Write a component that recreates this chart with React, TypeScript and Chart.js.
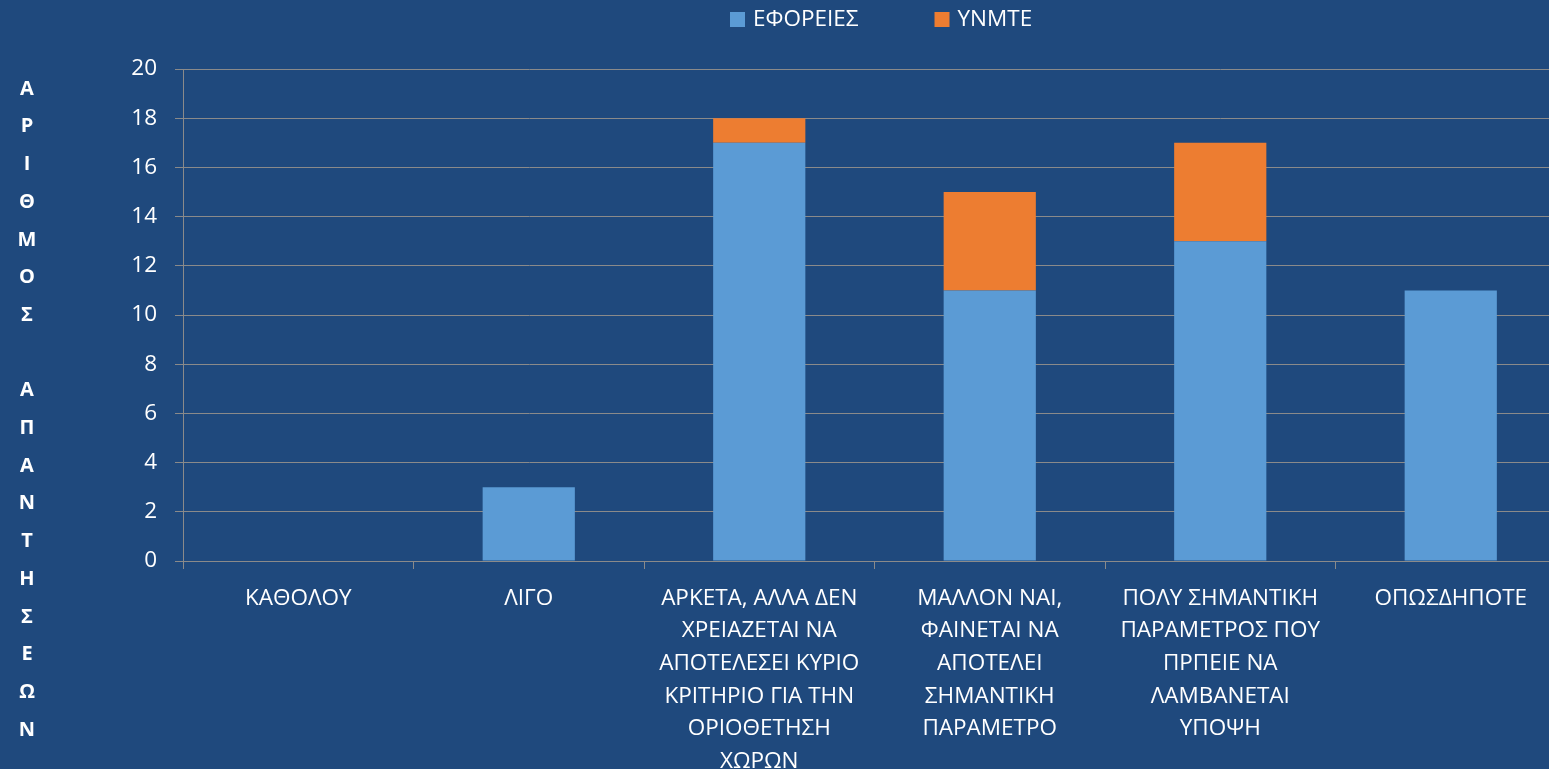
import React, { useEffect, useRef } from "react";
import { Chart, registerables } from "chart.js";

Chart.register(...registerables);

const categories: (string | string[])[] = [
  "ΚΑΘΟΛΟΥ",
  "ΛΙΓΟ",
  ["ΑΡΚΕΤΑ, ΑΛΛΑ ΔΕΝ", "ΧΡΕΙΑΖΕΤΑΙ ΝΑ", "ΑΠΟΤΕΛΕΣΕΙ ΚΥΡΙΟ", "ΚΡΙΤΗΡΙΟ ΓΙΑ ΤΗΝ", "ΟΡΙΟΘΕΤΗΣΗ", "ΧΩΡΩΝ"],
  ["ΜΑΛΛΟΝ ΝΑΙ,", "ΦΑΙΝΕΤΑΙ ΝΑ", "ΑΠΟΤΕΛΕΙ", "ΣΗΜΑΝΤΙΚΗ", "ΠΑΡΑΜΕΤΡΟ"],
  ["ΠΟΛΥ ΣΗΜΑΝΤΙΚΗ", "ΠΑΡΑΜΕΤΡΟΣ ΠΟΥ", "ΠΡΠΕΙΕ ΝΑ", "ΛΑΜΒΑΝΕΤΑΙ", "ΥΠΟΨΗ"],
  "ΟΠΩΣΔΗΠΟΤΕ",
];

const seriesNames = ["ΕΦΟΡΕΙΕΣ", "ΥΝΜΤΕ"];
const eforeiesValues = [0, 3, 17, 11, 13, 11];
const ynmteValues = [0, 0, 1, 4, 4, 0];

const yMin = 0;
const yMax = 20;
const yStep = 2;

const yAxisTitle = "ΑΡΙΘΜΟΣ ΑΠΑΝΤΗΣΕΩΝ";

const FONT = '"Open Sans", "Noto Sans", sans-serif';
const BG = "#1f497d";
const GRID = "#8a8a8a";
const BLUE = "#5b9bd5";
const ORANGE = "#ed7d31";

const legendPlugin = {
  id: "customLegend",
  afterDraw(chart: any) {
    const ctx = chart.ctx as CanvasRenderingContext2D;
    ctx.save();
    ctx.font = `22.5px ${FONT}`;
    ctx.textBaseline = "middle";
    ctx.textAlign = "left";
    let x = 730;
    const y = 19;
    chart.data.datasets.forEach((ds: any) => {
      ctx.fillStyle = ds.backgroundColor;
      ctx.fillRect(x, y - 7, 15, 15);
      x += 23;
      ctx.fillStyle = "#ffffff";
      ctx.fillText(ds.label, x, y + 1);
      x += ctx.measureText(ds.label).width + 76;
    });
    ctx.restore();
  },
};

const yTitlePlugin = {
  id: "yTitleStacked",
  afterDraw(chart: any) {
    const ctx = chart.ctx as CanvasRenderingContext2D;
    ctx.save();
    ctx.font = `bold 20px ${FONT}`;
    ctx.textBaseline = "middle";
    ctx.textAlign = "center";
    ctx.fillStyle = "#ffffff";
    const chars = Array.from(yAxisTitle);
    const y0 = 89;
    const step = 37.7;
    chars.forEach((c, i) => {
      if (c.trim()) ctx.fillText(c, 27, y0 + i * step);
    });
    ctx.restore();
  },
};

export default function App() {
  const ref = useRef<HTMLCanvasElement | null>(null);

  useEffect(() => {
    if (!ref.current) return;
    const chart = new Chart(ref.current, {
      type: "bar",
      data: {
        labels: categories,
        datasets: [
          {
            label: seriesNames[0],
            data: eforeiesValues,
            backgroundColor: BLUE,
            categoryPercentage: 1,
            barPercentage: 0.4,
          },
          {
            label: seriesNames[1],
            data: ynmteValues,
            backgroundColor: ORANGE,
            categoryPercentage: 1,
            barPercentage: 0.4,
          },
        ],
      },
      options: {
        animation: false,
        responsive: false,
        maintainAspectRatio: false,
        layout: { padding: { top: 69, left: 0, right: 0, bottom: 0 } },
        plugins: {
          legend: { display: false },
          tooltip: { enabled: false },
        },
        scales: {
          x: {
            stacked: true,
            offset: true,
            grid: {
              display: true,
              drawOnChartArea: false,
              drawTicks: true,
              tickLength: 8,
              offset: true,
              color: GRID,
            },
            border: { display: true, color: GRID },
            ticks: {
              color: "#ffffff",
              font: { family: FONT, size: 22.5, lineHeight: 1.45 },
              padding: 13,
              maxRotation: 0,
              minRotation: 0,
              autoSkip: false,
            },
            afterFit: (s: any) => {
              s.height = 208;
            },
          },
          y: {
            stacked: true,
            min: yMin,
            max: yMax,
            ticks: {
              stepSize: yStep,
              color: "#ffffff",
              font: { family: FONT, size: 22.5 },
              padding: 18,
            },
            grid: { color: GRID, tickLength: 8 },
            border: { display: true, color: GRID },
            afterFit: (s: any) => {
              s.width = 183;
            },
          },
        },
      },
      plugins: [legendPlugin, yTitlePlugin],
    });
    return () => chart.destroy();
  }, []);

  return (
    <div
      style={{
        position: "fixed",
        left: 0,
        top: 0,
        width: 1549,
        height: 769,
        overflow: "hidden",
        background: BG,
      }}
    >
      <canvas ref={ref} width={1566} height={769} style={{ display: "block", width: 1566, height: 769 }} />
    </div>
  );
}
